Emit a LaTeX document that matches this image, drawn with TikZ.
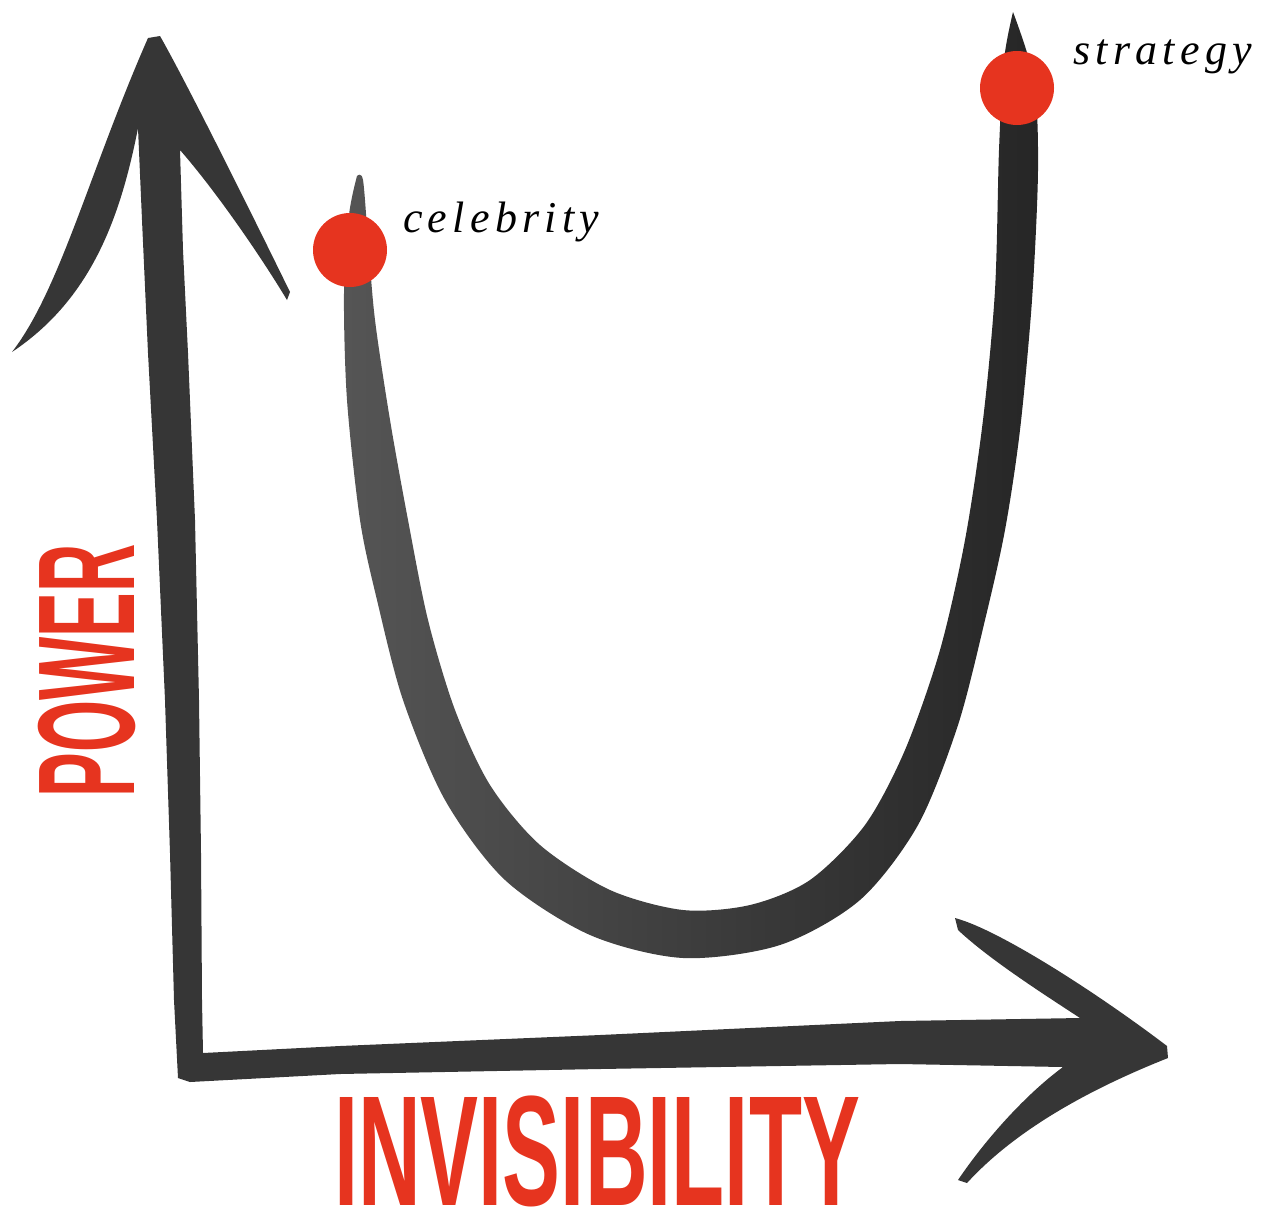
\documentclass[tikz,border=0pt]{standalone}
\usepackage{fontspec}
\setmainfont{Liberation Serif}
\newfontfamily\axisfont{Liberation Sans}
\newfontfamily\notefont[LetterSpace=12]{Liberation Serif}
\usetikzlibrary{positioning}
\definecolor{inkred}{HTML}{E6341F}
\definecolor{inkgray}{HTML}{363636}
\definecolor{inklight}{HTML}{555555}
\definecolor{inkdark}{HTML}{262626}

\begin{document}
\begin{tikzpicture}[x=1pt, y=-1pt,
    ink/.style={fill=inkgray, draw=none},
    curve/.style={left color=inklight, right color=inkdark, draw=none},
    dot/.style={circle, fill=inkred, minimum size=74pt, inner sep=0pt},
    axislabel/.style={inner sep=0pt, text=inkred, font=\axisfont\bfseries},
    note/.style={anchor=base west, inner sep=0pt, font=\notefont\itshape\fontsize{44}{44}\selectfont}
]
\useasboundingbox (0,0) rectangle (1271,1216);

% the two axes, one brush stroke
\fill[ink] (148,38) -- (160,36)
  .. controls (185,80) and (240,190) .. (290,292) -- (287,300)
  .. controls (260,255) and (215,190) .. (180,150)
  -- (183,250) -- (188,353) -- (195,520) -- (199,700) -- (201,853) -- (202,1000) -- (203,1053)
  -- (340,1046) -- (600,1035) -- (900,1021) -- (1080,1018)
  .. controls (1045,995) and (990,960) .. (958,930) -- (955,918)
  .. controls (1000,930) and (1100,995) .. (1167,1046) -- (1168,1058)
  .. controls (1100,1085) and (1020,1125) .. (967,1183) -- (958,1180)
  .. controls (985,1140) and (1025,1095) .. (1063,1067)
  -- (900,1064) -- (600,1069) -- (340,1074) -- (190,1082) -- (178,1078)
  -- (174,1000) -- (170,853) -- (165,700) -- (157,520) -- (148,353) -- (142,220) -- (138,128)
  .. controls (120,220) and (90,300) .. (12,352)
  .. controls (60,290) and (90,170) .. (148,38) -- cycle;

% the U curve
\path[curve] plot[smooth] coordinates {(357,176) (349,215) (344,293) (347,400) (360,520)
    (377,600) (403,700) (445,800) (505,880) (590,935) (683,958) (780,945) (860,900)
    (918,825) (958,725) (985,620) (1005,530) (1020,430) (1032,300) (1038,170) (1034,80) (1013,12)}
  -- plot[smooth] coordinates {(1013,12) (1004,60) (999,150) (995,290) (983,420) (965,540)
    (940,650) (905,750) (865,825) (810,880) (750,905) (683,910) (610,890) (540,845)
    (490,785) (455,710) (428,620) (408,520) (390,420) (375,320) (368,240) (363,180) (357,176)}
  -- cycle;

\node[dot] (celebdot) at (350,250) {};
\node[dot] (stratdot) at (1017,88) {};

\node[note] (celeb) at (403,232) {celebrity};
\node[note] (strat) at (1073,64) {strategy};

\node[axislabel] (invis) at (597,1151) {\fontsize{157}{157}\selectfont\scalebox{0.553}[1]{INVISIBILITY}};
\node[axislabel, rotate=90] (power) at (87,671) {\fontsize{138}{138}\selectfont\scalebox{0.485}[1]{POWER}};

\end{tikzpicture}
\end{document}
